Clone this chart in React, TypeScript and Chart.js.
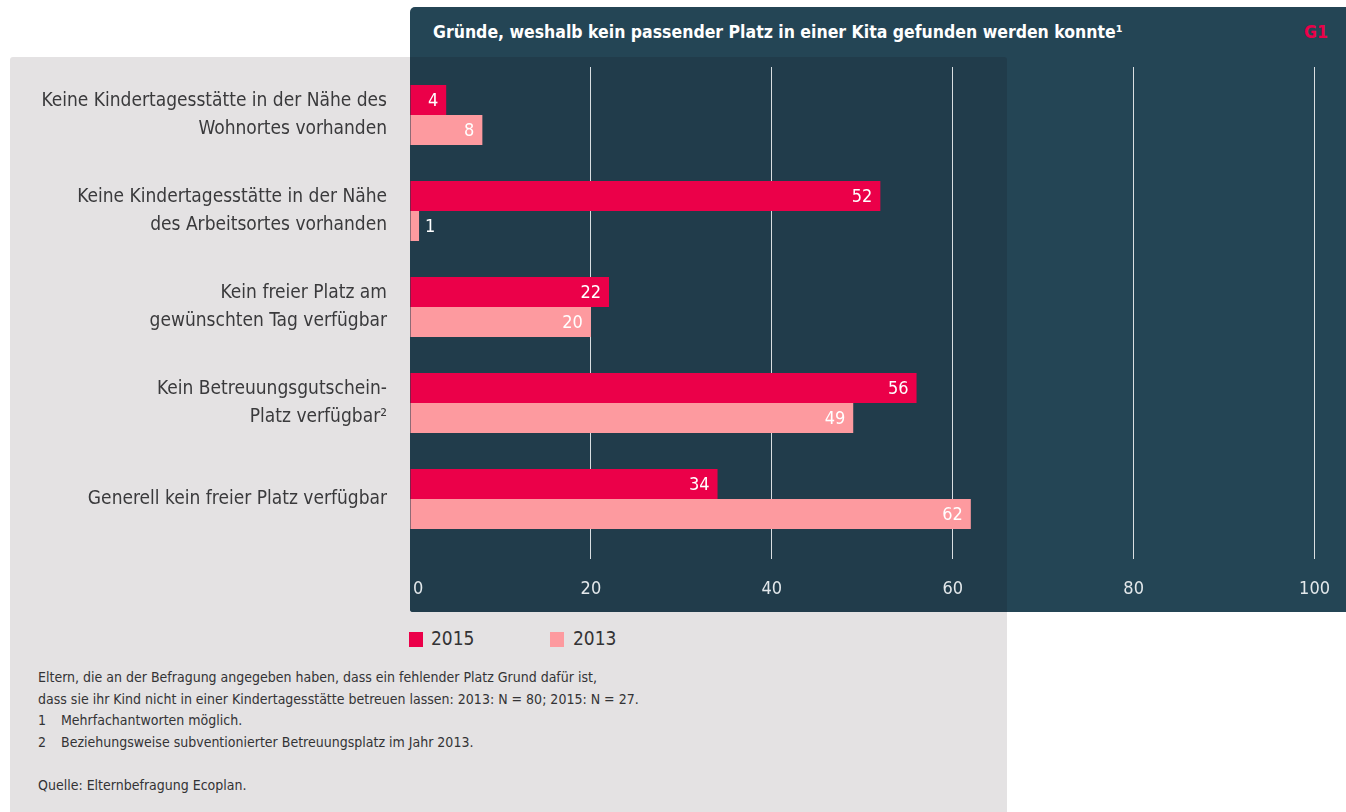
import React, { useEffect, useRef } from "react";
import { Chart, registerables } from "chart.js";

Chart.register(...registerables);

const categories: string[][] = [
  ["Keine Kindertagesstätte in der Nähe des", "Wohnortes vorhanden"],
  ["Keine Kindertagesstätte in der Nähe", "des Arbeitsortes vorhanden"],
  ["Kein freier Platz am", "gewünschten Tag verfügbar"],
  ["Kein Betreuungsgutschein-", "Platz verfügbar²"],
  ["Generell kein freier Platz verfügbar"],
];
const values2015: number[] = [4, 52, 22, 56, 34];
const values2013: number[] = [8, 1, 20, 49, 62];
const seriesNames: string[] = ["2015", "2013"];
const xTicks: number[] = [0, 20, 40, 60, 80, 100];

const TITLE = "Gründe, weshalb kein passender Platz in einer Kita gefunden werden konnte¹";
const NOTES: string[] = [
  "Eltern, die an der Befragung angegeben haben, dass ein fehlender Platz Grund dafür ist,",
  "dass sie ihr Kind nicht in einer Kindertagesstätte betreuen lassen: 2013: N = 80; 2015: N = 27.",
];
const FOOTNOTES: [string, string][] = [
  ["1", "Mehrfachantworten möglich."],
  ["2", "Beziehungsweise subventionierter Betreuungsplatz im Jahr 2013."],
];
const SOURCE = "Quelle: Elternbefragung Ecoplan.";

const RED = "#eb0049";
const PINK = "#fd9a9f";
const FONT = '"Liberation Sans Narrow", "DejaVu Sans Condensed", "Noto Sans", sans-serif';

const labelPlugin = {
  id: "barValues",
  afterDatasetsDraw(chart: any) {
    const ctx = chart.ctx;
    ctx.save();
    ctx.font = `18px ${FONT}`;
    ctx.textBaseline = "middle";
    chart.data.datasets.forEach((ds: any, di: number) => {
      const meta = chart.getDatasetMeta(di);
      meta.data.forEach((el: any, i: number) => {
        const v = ds.data[i];
        const txt = String(v);
        const w = ctx.measureText(txt).width;
        const barW = el.x - el.base;
        ctx.fillStyle = "#ffffff";
        if (barW > w + 12) {
          ctx.textAlign = "right";
          ctx.fillText(txt, el.x - 8, el.y + 1);
        } else {
          ctx.textAlign = "left";
          ctx.fillText(txt, el.x + 6, el.y + 1);
        }
      });
    });
    ctx.restore();
  },
};

export default function App() {
  const ref = useRef<HTMLCanvasElement | null>(null);
  useEffect(() => {
    if (!ref.current) return;
    const chart = new Chart(ref.current, {
      type: "bar",
      data: {
        labels: categories as any,
        datasets: [
          { label: seriesNames[0], data: values2015, backgroundColor: RED, barPercentage: 1, categoryPercentage: 0.625 },
          { label: seriesNames[1], data: values2013, backgroundColor: PINK, barPercentage: 1, categoryPercentage: 0.625 },
        ],
      },
      options: {
        indexAxis: "y",
        animation: false,
        responsive: false,
        maintainAspectRatio: false,
        layout: { padding: { top: 67, right: 28, left: 0, bottom: 0 } },
        plugins: { legend: { display: false }, tooltip: { enabled: false }, title: { display: false } },
        scales: {
          x: {
            min: 0,
            max: 100,
            afterBuildTicks: (s: any) => {
              s.ticks = xTicks.map((v) => ({ value: v }));
            },
            ticks: {
              color: "#e3e8eb",
              font: { family: FONT, size: 18 },
              padding: 20,
              callback: (v: any) => (Number(v) === 0 ? "\u2002\u20020" : String(v)),
            },
            grid: {
              color: (c: any) => (c.tick && c.tick.value === 0 ? "rgba(0,0,0,0)" : "#d9dee1"),
              lineWidth: 1,
              drawTicks: true,
              tickLength: 12,
            },
            border: { display: false },
            afterFit: (s: any) => {
              s.height = 65;
            },
          },
          y: {
            grid: { display: false },
            border: { display: false },
            ticks: { color: "#3a3a3c", font: { family: FONT, size: 19, lineHeight: 1.45 }, padding: 15, crossAlign: "near" },
            afterFit: (s: any) => {
              s.width = 410;
            },
          },
        },
      },
      plugins: [labelPlugin],
    });
    return () => chart.destroy();
  }, []);

  const textStyle: React.CSSProperties = { fontFamily: FONT, color: "#333335" };

  return (
    <div style={{ position: "fixed", left: 0, top: 0, width: 1346, height: 812, background: "#ffffff", overflow: "hidden" }}>
      <div style={{ position: "absolute", left: 10, top: 57, width: 997, height: 755, background: "#e4e2e3", borderTopLeftRadius: 3 }} />
      <div style={{ position: "absolute", left: 410, top: 7, width: 936, height: 605, background: "#244555", borderTopLeftRadius: 5, borderBottomLeftRadius: 3 }} />
      <div style={{ position: "absolute", left: 410, top: 57, width: 597, height: 555, background: "#213c4b", borderBottomLeftRadius: 3, borderTopRightRadius: 3 }} />
      <div style={{ ...textStyle, position: "absolute", left: 433, top: 22, fontSize: 17.5, fontWeight: 700, color: "#ffffff", whiteSpace: "nowrap" }}>{TITLE}</div>
      <div style={{ ...textStyle, position: "absolute", left: 1304, top: 22, fontSize: 17.5, fontWeight: 700, color: RED }}>G1</div>
      <canvas ref={ref} width={1350} height={612} style={{ position: "absolute", left: 0, top: 0, width: 1350, height: 612 }} />
      <div style={{ position: "absolute", left: 409, top: 632, width: 14, height: 15, background: RED }} />
      <div style={{ ...textStyle, position: "absolute", left: 431, top: 627, fontSize: 19 }}>{seriesNames[0]}</div>
      <div style={{ position: "absolute", left: 550, top: 632, width: 14, height: 15, background: PINK }} />
      <div style={{ ...textStyle, position: "absolute", left: 573, top: 627, fontSize: 19 }}>{seriesNames[1]}</div>
      <div style={{ ...textStyle, position: "absolute", left: 38, top: 667, fontSize: 14, lineHeight: "21.5px", whiteSpace: "nowrap" }}>
        {NOTES.map((n, i) => (
          <div key={"n" + i}>{n}</div>
        ))}
        {FOOTNOTES.map(([k, t]) => (
          <div key={"f" + k}>
            <span style={{ display: "inline-block", width: 23 }}>{k}</span>
            {t}
          </div>
        ))}
        <div style={{ height: 21.5 }} />
        <div>{SOURCE}</div>
      </div>
    </div>
  );
}
